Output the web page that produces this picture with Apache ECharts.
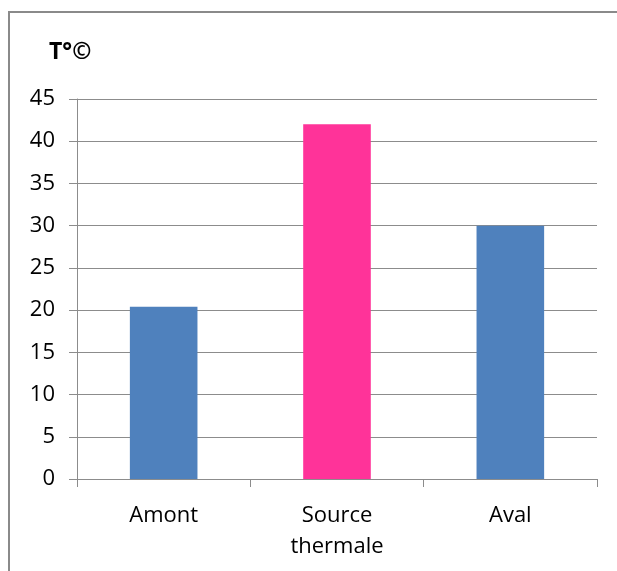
<!DOCTYPE html>
<html>
<head>
<meta charset="utf-8">
<script src="https://cdn.jsdelivr.net/npm/echarts@6/dist/echarts.min.js"></script>
<style>
  html, body { margin: 0; padding: 0; background: #fff; }
  #chart { width: 617px; height: 571px; }
</style>
</head>
<body>
<div id="chart"></div>
<script>
// Water temperature at three sampling points
const categories = ['Amont', 'Source\nthermale', 'Aval'];
const temperatures = [20.4, 42, 30];
const barColors = ['#4F81BD', '#FF3399', '#4F81BD'];
const yTicks = { min: 0, max: 45, interval: 5 };

const chart = echarts.init(document.getElementById('chart'), null, { renderer: 'canvas' });

const font = '"Open Sans", "Liberation Sans", sans-serif';
const gridColor = '#8c8c8c';

chart.setOption({
  animation: false,
  backgroundColor: '#fff',
  graphic: [
    {
      type: 'polyline',
      shape: { points: [[9, 580], [9, 12], [630, 12]] },
      style: { stroke: '#8a8a8a', lineWidth: 2, fill: null }
    }
  ],
  title: {
    text: 'T°©',
    left: 44,
    top: 36,
    textStyle: { fontFamily: font, fontWeight: 'bold', fontSize: 23, color: '#000' }
  },
  grid: { left: 77, right: 20, top: 99, bottom: 92, containLabel: false },
  xAxis: {
    type: 'category',
    data: categories,
    axisLine: { lineStyle: { color: gridColor, width: 1 } },
    axisTick: { show: true, length: 8, alignWithLabel: false, lineStyle: { color: gridColor } },
    axisLabel: {
      fontFamily: font, fontSize: 22, color: '#000', margin: 21, lineHeight: 31, interval: 0
    },
    splitLine: { show: false }
  },
  yAxis: {
    type: 'value',
    min: yTicks.min,
    max: yTicks.max,
    interval: yTicks.interval,
    axisLine: { show: true, lineStyle: { color: gridColor } },
    axisTick: { show: true, length: 8, lineStyle: { color: gridColor } },
    axisLabel: { fontFamily: font, fontSize: 22, color: '#000', margin: 22 },
    splitLine: { show: true, lineStyle: { color: gridColor, width: 1 } }
  },
  series: [{
    type: 'bar',
    data: temperatures.map((v, i) => ({ value: v, itemStyle: { color: barColors[i] } })),
    barWidth: '39%'
  }]
});
</script>
</body>
</html>
